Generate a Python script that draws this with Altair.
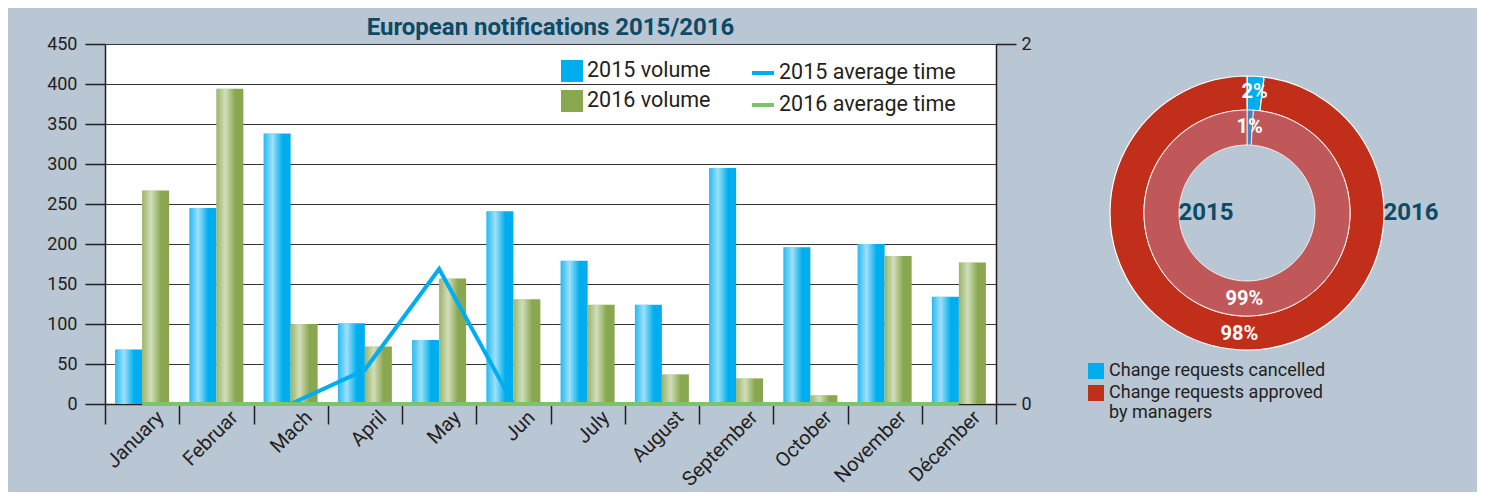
import altair as alt
import pandas as pd

# ---------------- data ----------------
months = ["January", "Februar", "Mach", "April", "May", "Jun", "July",
          "August", "September", "October", "November", "Décember"]
vol_names = ["2015 volume", "2016 volume"]
vol_2015 = [68, 245, 338, 101, 80, 241, 179, 124, 295, 196, 200, 134]
vol_2016 = [267, 394, 100, 72, 157, 131, 124, 37, 32, 11, 185, 177]

line_names = ["2015 average time", "2016 average time"]
time_2015 = [0, 0, 0, 0.19, 0.75, 0, 0, 0, 0, 0, 0, 0]
time_2016 = [0, 0, 0, 0, 0, 0, 0, 0, 0, 0, 0, 0]

y_ticks = [0, 50, 100, 150, 200, 250, 300, 350, 400, 450]
y2_ticks = [0, 1, 2]

categories = ["Change requests cancelled", "Change requests approved by managers"]
rings = ["2015", "2016"]
pct_2015 = [1, 99]
pct_2016 = [2, 98]

# ---------------- tables ----------------
vol_df = pd.DataFrame({
    "month": months * 2,
    "series": [vol_names[0]] * len(months) + [vol_names[1]] * len(months),
    "value": vol_2015 + vol_2016,
})
line_df = pd.DataFrame({
    "month": months * 2,
    "series": [line_names[0]] * len(months) + [line_names[1]] * len(months),
    "time": time_2015 + time_2016,
})
donut_df = pd.DataFrame({
    "ring": [rings[0]] * 2 + [rings[1]] * 2,
    "category": categories * 2,
    "order": [0, 1, 0, 1],
    "pct": pct_2015 + pct_2016,
})
donut_df["label"] = donut_df["pct"].astype(str) + "%"

# ---------------- styles ----------------
FONT_C = "Roboto, Liberation Sans, sans-serif"
FONT_L = "Roboto, Liberation Sans, sans-serif"
INK = "#231F20"
TITLE_C = "#0D4A66"
BLUE = "#00AEEF"
GREEN = "#88A74E"
BG = "#B9C6D4"

x_enc = alt.X(
    "month:N", sort=months,
    scale=alt.Scale(paddingInner=0, paddingOuter=0),
    axis=alt.Axis(title=None, labelAngle=315, labelAlign="right", labelBaseline="middle",
                  tickBand="extent", tickSize=20, labelPadding=-10, labelOffset=18,
                  labelFont=FONT_C, labelFontSize=20, labelColor=INK,
                  domainColor=INK, domainWidth=1.5, tickColor=INK, tickWidth=1.5,
                  grid=False),
)
xoff_enc = alt.XOffset("series:N", sort=vol_names,
                       scale=alt.Scale(paddingInner=0, paddingOuter=0.375))
y_enc = alt.Y(
    "value:Q", scale=alt.Scale(domain=[0, 450], nice=False),
    axis=alt.Axis(title=None, values=y_ticks, tickSize=20, labelPadding=8,
                  labelFont=FONT_C, labelFontSize=18, labelColor=INK,
                  domainColor=INK, domainWidth=1.5, tickColor=INK, tickWidth=1.5,
                  grid=True, gridColor=INK, gridWidth=1, gridOpacity=0.9),
)

bars = alt.Chart(vol_df).mark_bar().encode(
    x=x_enc, xOffset=xoff_enc, y=y_enc,
    fill=alt.Fill("series:N", sort=vol_names,
                  scale=alt.Scale(domain=vol_names, range=[BLUE, GREEN]),
                  legend=alt.Legend(title=None, orient="none", legendX=456, legendY=16,
                                    symbolType="square", symbolSize=484, symbolStrokeWidth=0,
                                    symbolOpacity=1, labelLimit=400,
                                    labelFont=FONT_L, labelFontSize=21.5, labelColor=INK,
                                    rowPadding=8, labelOffset=4, padding=0)),
)

shine = alt.LinearGradient(
    gradient="linear", x1=0, y1=0, x2=1, y2=0,
    stops=[
        alt.GradientStop(offset=0, color="rgba(255,255,255,0.15)"),
        alt.GradientStop(offset=0.33, color="rgba(255,255,255,0.62)"),
        alt.GradientStop(offset=0.7, color="rgba(255,255,255,0)"),
        alt.GradientStop(offset=1, color="rgba(255,255,255,0)"),
    ],
)
bars_shine = alt.Chart(vol_df).mark_bar(fill=shine).encode(
    x=x_enc, xOffset=xoff_enc, y=y_enc,
)

lines = alt.Chart(line_df).mark_line(strokeWidth=4).encode(
    x=x_enc,
    y=alt.Y("time:Q", scale=alt.Scale(domain=[0, 2], nice=False),
            axis=alt.Axis(title=None, orient="right", values=y2_ticks, format="d",
                          tickSize=20, labelPadding=5, labelFont=FONT_C, labelFontSize=18,
                          labelColor=INK, domainColor=INK, domainWidth=1.5,
                          tickColor=INK, tickWidth=1.5, grid=False)),
    stroke=alt.Stroke("series:N", sort=line_names,
                      scale=alt.Scale(domain=line_names, range=[BLUE, "#7DC36B"]),
                      legend=alt.Legend(title=None, orient="none", legendX=645, legendY=16,
                                        symbolType="stroke", symbolSize=484,
                                        symbolStrokeWidth=4, labelLimit=400,
                                        labelFont=FONT_L, labelFontSize=21.5, labelColor=INK,
                                        rowPadding=8, labelOffset=3, padding=0)),
)

main = alt.layer(alt.layer(bars, bars_shine), lines).resolve_scale(y="independent").properties(
    width=891, height=360,
    title=alt.Title("European notifications 2015/2016", font=FONT_C, fontSize=24,
                    fontWeight="bold", color=TITLE_C, anchor="middle", frame="group",
                    offset=-5),
    view=alt.ViewBackground(fill="white", stroke=None),
)

# ---------------- donut ----------------
inner = alt.Chart(donut_df).transform_filter(alt.datum.ring == rings[0]).encode(
    theta=alt.Theta("pct:Q", stack=True),
    order=alt.Order("order:Q"),
)
outer = alt.Chart(donut_df).transform_filter(alt.datum.ring == rings[1]).encode(
    theta=alt.Theta("pct:Q", stack=True),
    order=alt.Order("order:Q"),
)
inner_arc = inner.mark_arc(innerRadius=68, outerRadius=103, stroke="white",
                           strokeWidth=0.8).encode(
    fill=alt.Fill("category:N", scale=alt.Scale(domain=categories,
                                                range=["#4F81BD", "#C0585A"]),
                  legend=None),
)
outer_arc = outer.mark_arc(innerRadius=103, outerRadius=137, stroke="white",
                           strokeWidth=1.2).encode(
    fill=alt.Fill("category:N", scale=alt.Scale(domain=categories,
                                                range=[BLUE, "#C12F1B"]),
                  legend=alt.Legend(title=None, orient="none", legendX=-10, legendY=318,
                                    symbolType="square", symbolSize=256,
                                    symbolStrokeWidth=0, labelFont=FONT_C,
                                    labelFontSize=18, labelColor=INK, padding=0,
                                    rowPadding=4, labelOffset=4, labelLimit=400,
                                    labelExpr="datum.label == 'Change requests approved by managers' ? ['Change requests approved', 'by managers'] : datum.label")),
)
inner_txt = inner.mark_text(radius=86, font=FONT_C, fontSize=20, fontWeight="bold",
                            color="white").encode(detail="category:N", text="label:N")
outer_txt = outer.mark_text(radius=121, font=FONT_C, fontSize=20, fontWeight="bold",
                            color="white").encode(detail="category:N", text="label:N")

ring_df = pd.DataFrame({"ring": rings})
lbl_2015 = alt.Chart(ring_df).transform_filter(alt.datum.ring == rings[0]).mark_text(
    theta=4.712, radius=41, font=FONT_C, fontSize=24, fontWeight="bold", color=TITLE_C
).encode(text="ring:N")
lbl_2016 = alt.Chart(ring_df).transform_filter(alt.datum.ring == rings[1]).mark_text(
    theta=1.5708, radius=164, font=FONT_C, fontSize=24, fontWeight="bold", color=TITLE_C
).encode(text="ring:N")

donut = alt.layer(outer_arc, inner_arc, outer_txt, inner_txt, lbl_2015, lbl_2016).resolve_scale(
    fill="independent"
).properties(width=300, height=338, view=alt.ViewBackground(fill=None, stroke=None))

chart = alt.hconcat(main, donut, spacing=101, bounds="flush").properties(
    padding={"left": 38, "top": 8, "right": 38, "bottom": 2},
).configure(background=BG)

chart.save("out.html", embed_options={"renderer": "svg", "actions": False})
